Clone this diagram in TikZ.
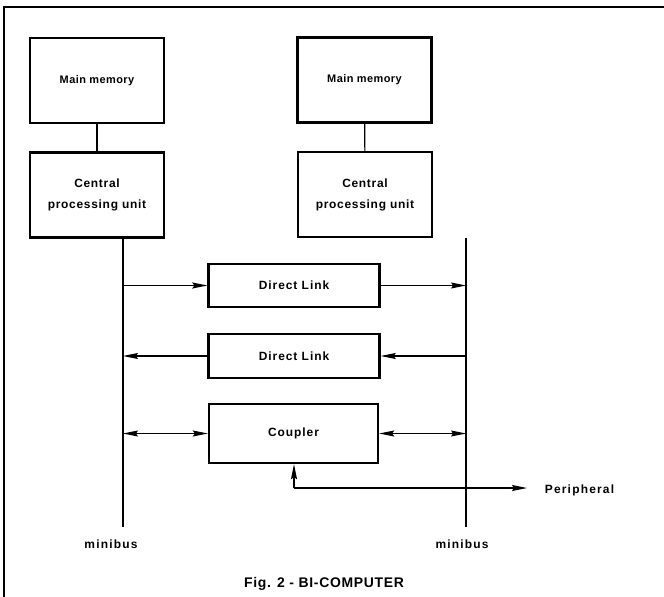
\documentclass[tikz,border=0pt]{standalone}
\usepackage{fontspec}
\setmainfont{Liberation Sans}
\usetikzlibrary{arrows.meta}

\begin{document}
\begin{tikzpicture}[x=1bp,y=-1bp,>={Stealth[length=15bp,width=6bp,inset=2bp]},line width=1.1bp,
    unit/.style={draw,line width=2.4bp,minimum width=134bp,minimum height=85bp,align=center},
    link/.style={draw,line width=2.4bp,minimum width=171bp,font=\bfseries\fontsize{12}{14}\selectfont\addfontfeature{LetterSpace=8}},
    lbl/.style={font=\bfseries\fontsize{12}{14}\selectfont\addfontfeature{LetterSpace=10}}]
      \useasboundingbox (0,0) rectangle (664,597);
      % frame
      \draw[line width=1.2bp] (664,7) -- (4,7) -- (4,597);
      % the two computers
      \tikzset{every node/.append style={font=\bfseries\fontsize{11}{12}\selectfont\addfontfeature{LetterSpace=4}}}
      \node[unit] (memA) at (97,80.5) {Main memory};
      \node[unit] (memB) at (364.5,80) {Main memory};
      \tikzset{every node/.append style={font=\bfseries\fontsize{12}{21}\selectfont\addfontfeature{LetterSpace=6}}}
      \node[unit] (cpuA) at (97,195) {Central\\processing unit};
      \node[unit] (cpuB) at (365,194.5) {Central\\processing unit};
      \draw (memA) -- (cpuA);
      \draw (memB) -- (cpuB);
      % minibus lines
      \coordinate (busA) at (123,527);
      \coordinate (busB) at (466,527);
      \draw (cpuA.south -| busA) -- (busA);
      \draw (cpuB.south -| busB) -- (busB);
      \node[lbl] (mbA) at (111,544) {minibus};
      \node[lbl] (mbB) at (462,544) {minibus};
      % links between the buses
      \node[link,minimum height=43bp] (dlA) at (294,285.5) {Direct Link};
      \node[link,minimum height=44bp] (dlB) at (294,356) {Direct Link};
      \node[link,minimum width=169bp,minimum height=59bp] (cpl) at (293.5,433.5) {Coupler};
      \draw[->] (busA |- dlA.west) -- (dlA.west);
      \draw[->] (dlA.east) -- (busB |- dlA.east);
      \draw[->] (busB |- dlB.east) -- (dlB.east);
      \draw[->] (dlB.west) -- (busA |- dlB.west);
      \draw[<->] (busA |- cpl.west) -- (cpl.west);
      \draw[<->] (cpl.east) -- (busB |- cpl.east);
      % peripheral
      \coordinate (knee) at (294,488);
      \node[lbl,anchor=west] (per) at (541,490) {Peripheral};
      \draw[->] (knee) -- (cpl.south -| knee);
      \draw[->] (knee) -- (527,488);
      \node[font=\bfseries\fontsize{14}{16}\selectfont\addfontfeature{LetterSpace=5}] (cap) at (324,584) {Fig. 2 - BI-COMPUTER};
    \end{tikzpicture}
\end{document}
